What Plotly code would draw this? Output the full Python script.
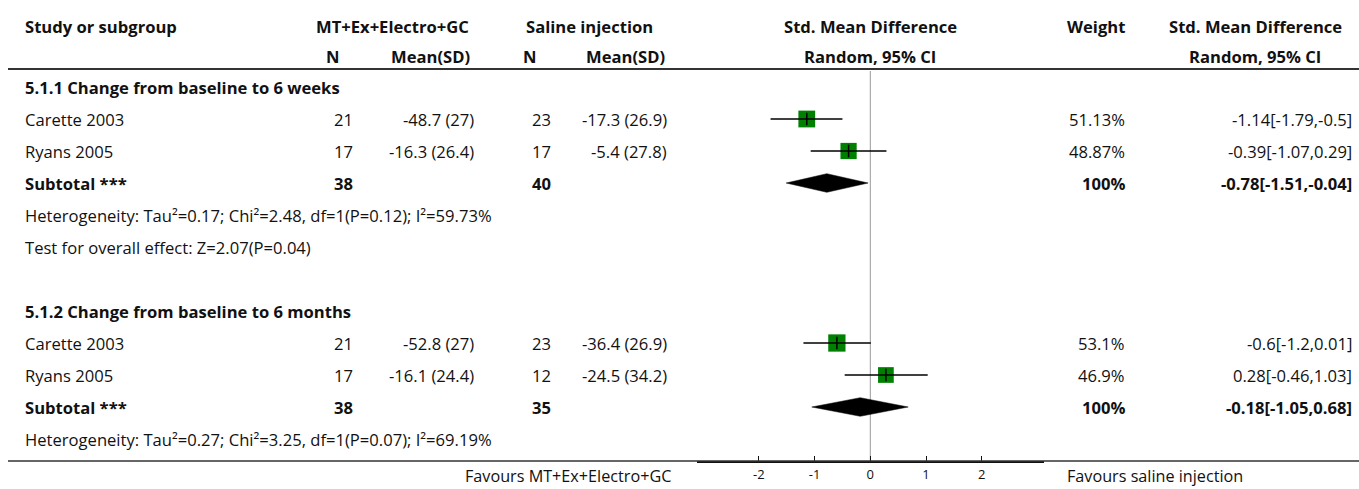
import plotly.graph_objects as go

W, H = 1359, 489
FONT = "Open Sans"
FS = 16.6

# ---------------- data ----------------
groups = ["5.1.1 Change from baseline to 6 weeks", "5.1.2 Change from baseline to 6 months"]
studies = [["Carette 2003", "Ryans 2005"], ["Carette 2003", "Ryans 2005"]]
n1 = [[21, 17], [21, 17]]
mean1 = [["-48.7 (27)", "-16.3 (26.4)"], ["-52.8 (27)", "-16.1 (24.4)"]]
n2 = [[23, 17], [23, 12]]
mean2 = [["-17.3 (26.9)", "-5.4 (27.8)"], ["-36.4 (26.9)", "-24.5 (34.2)"]]
weights = [[51.13, 48.87], [53.1, 46.9]]
smd = [[-1.14, -0.39], [-0.6, 0.28]]
lo = [[-1.79, -1.07], [-1.2, -0.46]]
hi = [[-0.5, 0.29], [0.01, 1.03]]
ci_text = [["-1.14[-1.79,-0.5]", "-0.39[-1.07,0.29]"], ["-0.6[-1.2,0.01]", "0.28[-0.46,1.03]"]]
sub_n1 = [38, 38]
sub_n2 = [40, 35]
sub_smd = [-0.78, -0.18]
sub_lo = [-1.51, -1.05]
sub_hi = [-0.04, 0.68]
sub_text = ["-0.78[-1.51,-0.04]", "-0.18[-1.05,0.68]"]
hetero = ["Heterogeneity: Tau²=0.17; Chi²=2.48, df=1(P=0.12); I²=59.73%",
          "Heterogeneity: Tau²=0.27; Chi²=3.25, df=1(P=0.07); I²=69.19%"]
overall = ["Test for overall effect: Z=2.07(P=0.04)", None]
tick_vals = [-2, -1, 0, 1, 2]
label_left = "Favours MT+Ex+Electro+GC"
label_right = "Favours saline injection"

# ---------------- layout helpers ----------------
ROW0, STEP = 87.0, 32.0          # pixel y of first row, row spacing
AX_BOTTOM = 461.0                # pixel y of x-axis line
AX_L, AX_R = 697.0, 1043.6       # pixel extent of forest axis
XR = 3.11


def px(x):
    return x / W


def krow(ypix):
    return (ypix - ROW0) / STEP


fig = go.Figure()
ann = []


def text(xp, k, s, anchor="left", bold=False, size=FS, yref="y", yanchor="middle"):
    ann.append(dict(x=px(xp), xref="paper", y=k, yref=yref, text=("<b>%s</b>" % s) if bold else s,
                    showarrow=False, xanchor=anchor, yanchor=yanchor, borderpad=0,
                    font=dict(family=FONT, size=size, color="#111111")))


C_STUDY, C_N1, C_M1, C_N2, C_M2, C_W, C_CI = 24, 354, 475, 552, 668, 1126, 1353

# headers
text(24, krow(26), "Study or subgroup", bold=True)
text(393, krow(26), "MT+Ex+Electro+GC", "center", bold=True)
text(589.5, krow(26), "Saline injection", "center", bold=True)
text(870, krow(26), "Std. Mean Difference", "center", bold=True)
text(C_W, krow(26), "Weight", "right", bold=True)
text(1255, krow(26), "Std. Mean Difference", "center", bold=True)
text(333, krow(56), "N", "center", bold=True)
text(471, krow(56), "Mean(SD)", "right", bold=True)
text(530, krow(56), "N", "center", bold=True)
text(666, krow(56), "Mean(SD)", "right", bold=True)
text(870, krow(56), "Random, 95% CI", "center", bold=True)
text(1255, krow(56), "Random, 95% CI", "center", bold=True)

shapes = []
# header line
shapes.append(dict(type="line", xref="paper", yref="y", x0=px(8), x1=1, y0=krow(69), y1=krow(69),
                   line=dict(color="#333333", width=2)))
# bottom line
shapes.append(dict(type="line", xref="paper", yref="paper", x0=px(8), x1=1, y0=(H - AX_BOTTOM) / H,
                   y1=(H - AX_BOTTOM) / H, line=dict(color="#333333", width=1.3)))
# no-effect line
shapes.append(dict(type="line", xref="x", yref="y", x0=0, x1=0, y0=krow(71), y1=krow(AX_BOTTOM),
                   line=dict(color="#999999", width=1), layer="below"))

row = 0
for g in range(len(groups)):
    text(C_STUDY, row, groups[g], bold=True)
    row += 1
    for i in range(len(studies[g])):
        text(C_STUDY, row, studies[g][i])
        text(C_N1, row, str(n1[g][i]), "right")
        text(C_M1, row, mean1[g][i], "right")
        text(C_N2, row, str(n2[g][i]), "right")
        text(C_M2, row, mean2[g][i], "right")
        text(C_W, row, "%s%%" % weights[g][i], "right")
        text(C_CI, row, ci_text[g][i], "right")
        # square
        fig.add_trace(go.Scatter(x=[smd[g][i]], y=[row], mode="markers",
                                 marker=dict(symbol="square", color="#008000",
                                             size=4 + 0.25 * weights[g][i], line=dict(width=0)),
                                 hoverinfo="skip"))
        # CI line
        fig.add_trace(go.Scatter(x=[lo[g][i], hi[g][i]], y=[row, row], mode="lines",
                                 line=dict(color="#000000", width=1.5), hoverinfo="skip"))
        # centre tick
        fig.add_trace(go.Scatter(x=[smd[g][i]], y=[row], mode="markers",
                                 marker=dict(symbol="line-ns", size=9,
                                             line=dict(color="#000000", width=1.5)),
                                 hoverinfo="skip"))
        row += 1
    # subtotal
    text(C_STUDY, row, "Subtotal ***", bold=True)
    text(C_N1, row, str(sub_n1[g]), "right", bold=True)
    text(C_N2, row, str(sub_n2[g]), "right", bold=True)
    text(C_W, row, "100%", "right", bold=True)
    text(C_CI, row, sub_text[g], "right", bold=True)
    h = 9.3 / STEP
    fig.add_trace(go.Scatter(x=[sub_lo[g], sub_smd[g], sub_hi[g], sub_smd[g], sub_lo[g]],
                             y=[row, row - h, row, row + h, row], mode="lines", fill="toself",
                             fillcolor="#000000", line=dict(color="#000000", width=0.5),
                             hoverinfo="skip"))
    row += 1
    text(C_STUDY, row, hetero[g])
    row += 1
    if overall[g]:
        text(C_STUDY, row, overall[g])
        row += 2

# favours labels (anchored to the bottom edge so they are not clipped)
text(672, 0.002, label_left, "right", yref="paper", size=16.2, yanchor="bottom")
text(1066, 0.002, label_right, "left", yref="paper", size=16.2, yanchor="bottom")

fig.update_layout(
    width=W, height=H, margin=dict(l=0, r=0, t=0, b=0),
    paper_bgcolor="white", plot_bgcolor="white", showlegend=False,
    annotations=ann, shapes=shapes,
    xaxis=dict(domain=[AX_L / W, AX_R / W], range=[-XR, XR], showgrid=False, zeroline=False,
               showline=True, linecolor="#111111", linewidth=2, ticks="inside", ticklen=5,
               tickwidth=1, tickcolor="#111111", tickvals=tick_vals,
               ticktext=[str(v) for v in tick_vals], tickfont=dict(family=FONT, size=13, color="#111111"),
               fixedrange=True),
    yaxis=dict(domain=[(H - AX_BOTTOM) / H, 1], range=[krow(AX_BOTTOM), krow(0)], visible=False,
               showgrid=False, zeroline=False, fixedrange=True),
)

fig.write_html("out.html")
